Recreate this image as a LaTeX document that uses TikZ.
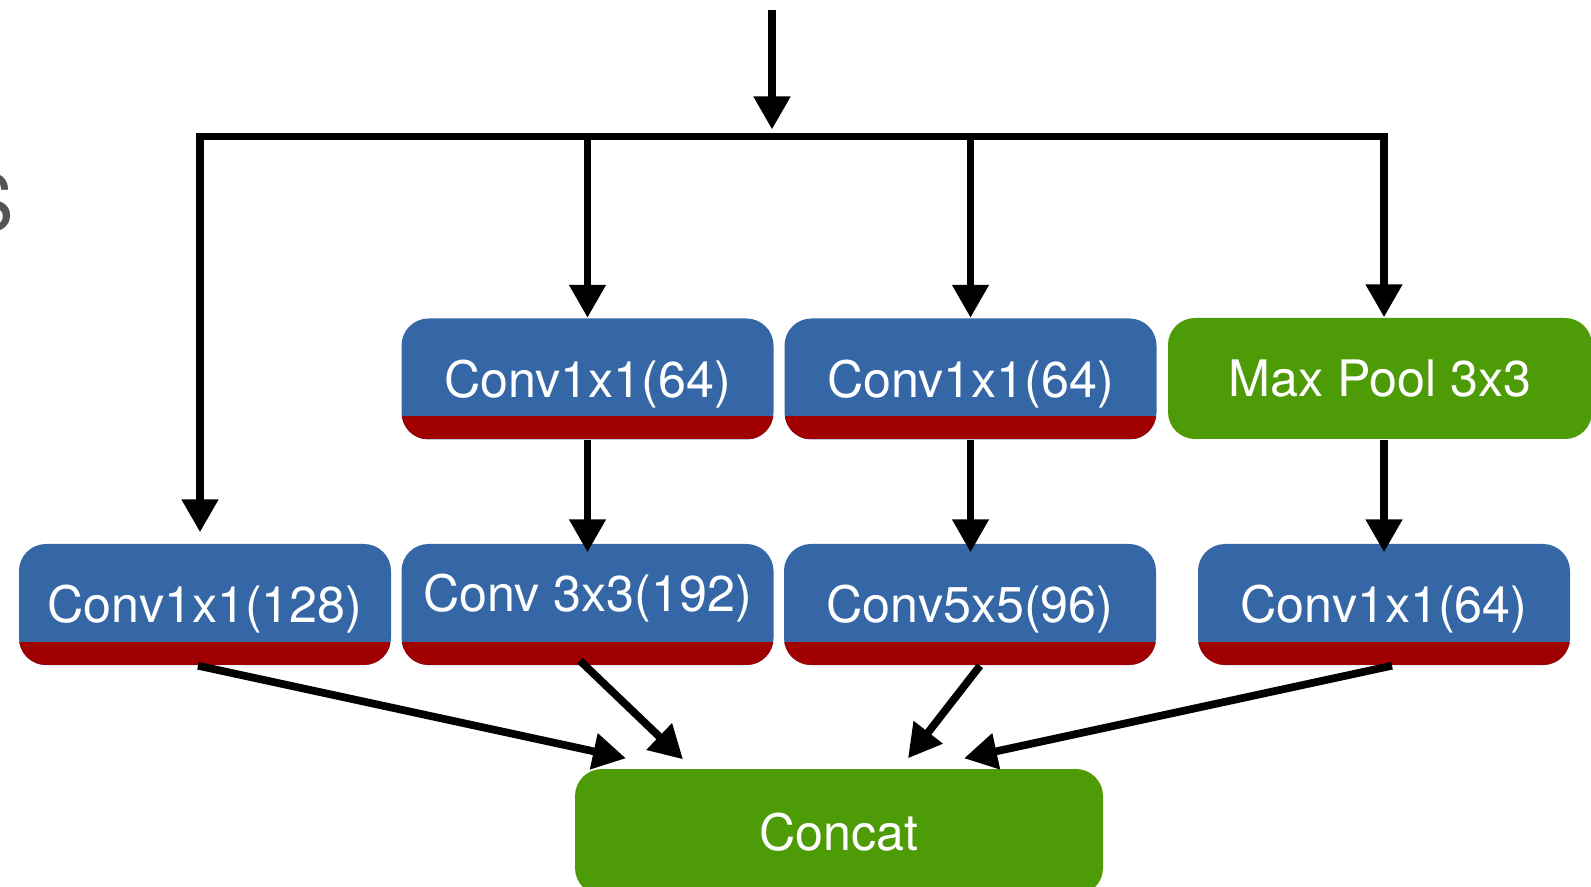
\documentclass[tikz,border=0pt]{standalone}
\usepackage{fontspec}
\setmainfont{TeX Gyre Heros}
\usetikzlibrary{arrows.meta,calc}

\definecolor{convblue}{RGB}{53,103,166}
\definecolor{convred}{RGB}{161,0,0}
\definecolor{poolgreen}{RGB}{78,155,8}

\tikzstyle{block}=[rounded corners=0.27cm,inner sep=0pt,text=white,
  font=\fontsize{14.3}{17}\selectfont,text height=10.3pt,text depth=0pt]
\tikzstyle{conv}=[block,fill=convblue,minimum width=3.72cm,minimum height=1.21cm,
  path picture={\fill[convred,sharp corners] ($(path picture bounding box.south west)+(0,0.23)$)
  rectangle (path picture bounding box.south east);}]
\tikzstyle{pool}=[block,fill=poolgreen]
\tikzstyle{arr}=[line width=2.2pt,-{Triangle[width=0.35cm,length=0.33cm]}]

\begin{document}
\begin{tikzpicture}

   \useasboundingbox (0,0) rectangle (15.91,-8.87);

   % letter of the slide, cut off at the left
   \node[anchor=base east,inner sep=0pt,text=black!67,
     font=\fontsize{22.5}{27}\selectfont] (slide) at (0.15,-2.32) {S};


   \node[conv] (r1b) at (5.875,-3.79) {Conv1x1(64)};
   \node[conv] (r1c) at (9.705,-3.79) {Conv1x1(64)};
   \node[pool,minimum width=4.24cm,minimum height=1.21cm] (pool) at (13.80,-3.785) {Max Pool 3x3};

   \node[conv] (r2a) at (2.05,-6.045) {Conv1x1(128)};
   \node[conv] (r2b) at (5.875,-6.045) {\raisebox{0.11cm}{Conv 3x3(192)}};
   \node[conv] (r2c) at (9.70,-6.045) {Conv5x5(96)};
   \node[conv] (r2d) at (13.84,-6.045) {Conv1x1(64)};

   \node[pool,minimum width=5.28cm,minimum height=1.26cm] (concat) at (8.39,-8.32) {Concat};


   \coordinate (in) at (7.72,-0.10);
   \coordinate (busL) at (2.00,-1.365);
   \coordinate (busR) at (13.84,-1.365);

   \draw[arr,shorten >=0.07cm] (in) -- (in |- busL);
   \draw[arr,shorten >=0.11cm] (busR) -- (busL) -- (busL |- r2a.north);
   \draw[arr] (busL) -- (busR) -- (busR |- pool.north);
   \draw[arr] (r1b.north |- busL) -- (r1b.north);
   \draw[arr] (r1c.north |- busL) -- (r1c.north);

   \draw[arr,shorten >=-0.09cm] (r1b.south) -- (r2b.north);
   \draw[arr,shorten >=-0.09cm] (r1c.south) -- (r1c.south |- r2c.north);
   \draw[arr,shorten >=-0.09cm] (r2d.north |- pool.south) -- (r2d.north);

   \draw[arr] ([xshift=-0.07cm]r2a.south) -- ([xshift=-2.13cm,yshift=0.10cm]concat.north);
   \draw[arr] ([xshift=-0.075cm,yshift=0.05cm]r2b.south) -- ([xshift=-1.56cm,yshift=0.09cm]concat.north);
   \draw[arr] ([xshift=0.10cm]r2c.south) -- ([xshift=0.69cm,yshift=0.10cm]concat.north);
   \draw[arr] ([xshift=0.08cm]r2d.south) -- ([xshift=1.25cm,yshift=0.10cm]concat.north);

\end{tikzpicture}
\end{document}
